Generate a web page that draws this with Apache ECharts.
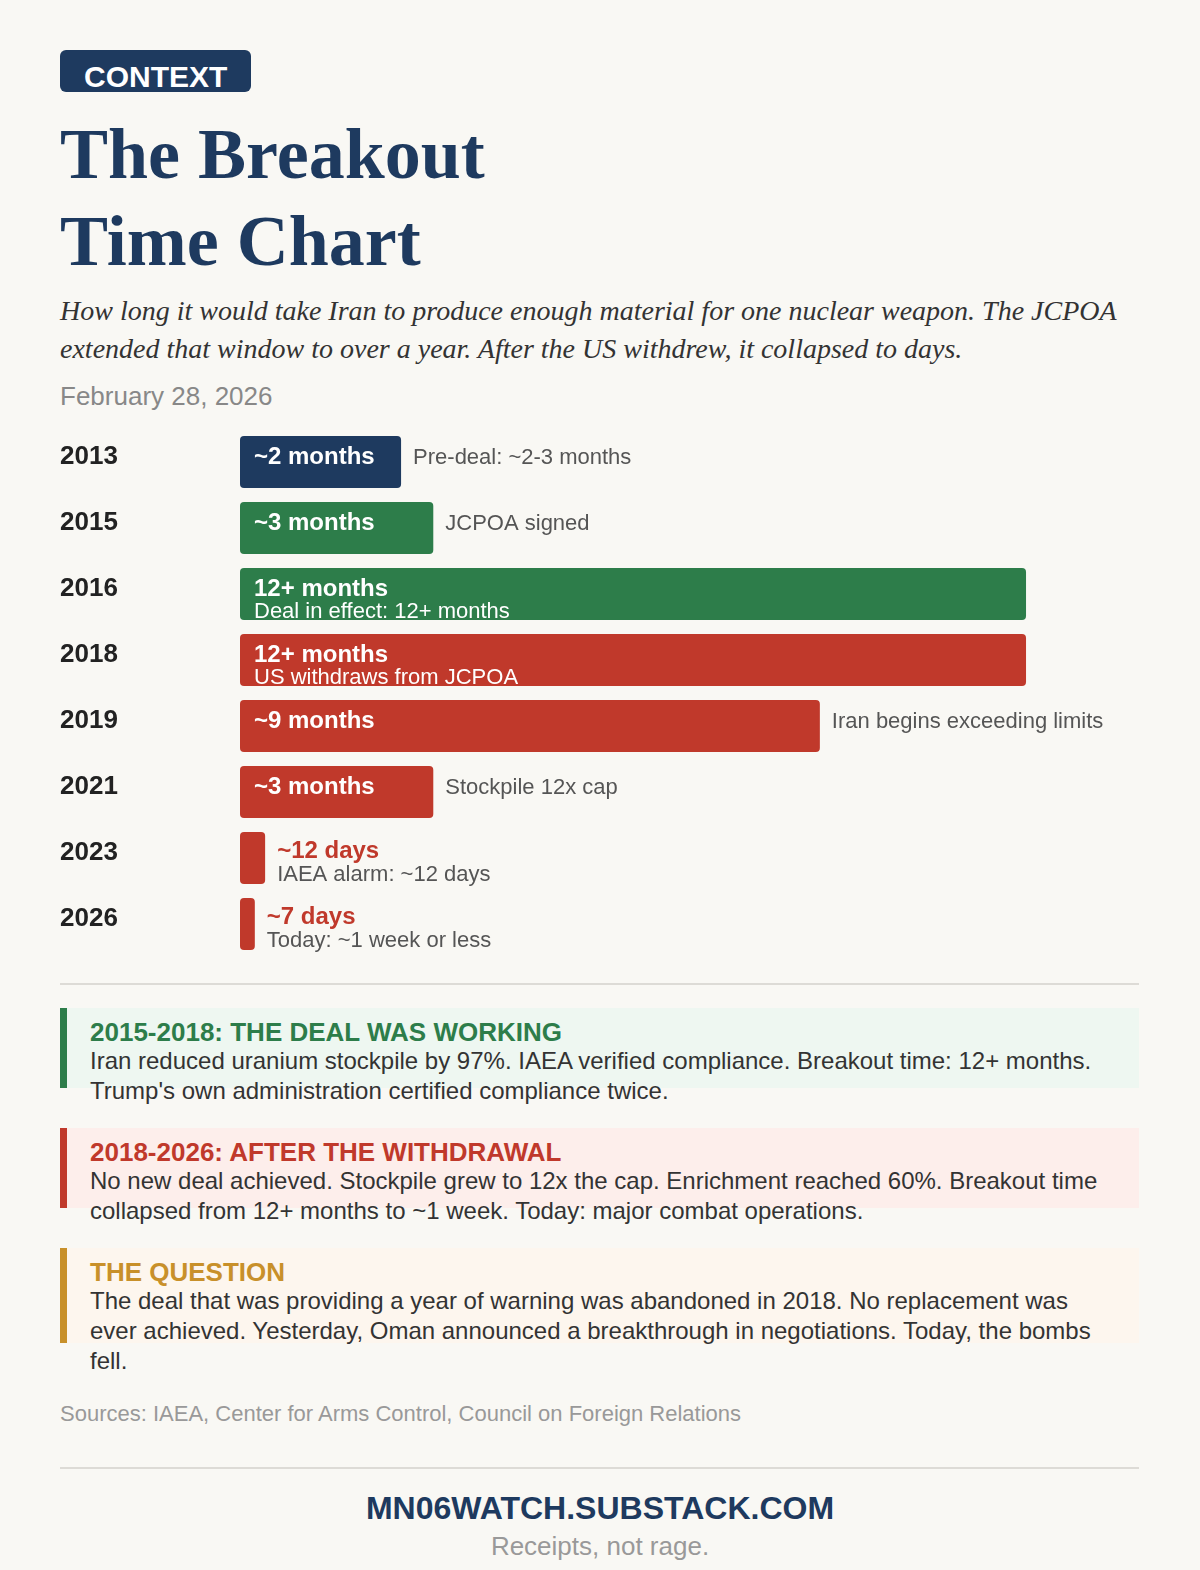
<!DOCTYPE html>
<html>
<head>
<meta charset="utf-8">
<title>The Breakout Time Chart</title>
<script src="https://cdn.jsdelivr.net/npm/echarts@6/dist/echarts.min.js"></script>
<style>
	html, body { margin: 0; padding: 0; }
	body { width: 1200px; height: 1570px; background: #f9f8f4; position: relative; overflow: hidden;
		font-family: "Liberation Sans", Arial, Helvetica, sans-serif; color: #333; }
	.abs { position: absolute; white-space: nowrap; }
	.badge { left: 60px; top: 50px; width: 191px; height: 42px; background: #1e3a5f; border-radius: 6px; }
	.badge-txt { left: 84px; top: 62px; font-size: 30px; line-height: 30px; font-weight: bold; color: #fff; }
	.title { left: 60px; top: 111px; font-family: "Liberation Serif", "Times New Roman", serif; font-weight: bold;
		font-size: 72px; line-height: 87px; color: #1e3a5f; }
	.sub { left: 60px; top: 292px; font-family: "Liberation Serif", "Times New Roman", serif; font-style: italic;
		font-size: 28px; line-height: 38px; color: #333; }
	.date { left: 60px; top: 381px; font-size: 26px; line-height: 30px; color: #888; }
	.rule { left: 60px; width: 1079px; height: 2px; background: #dddbd6; }
	#chart { position: absolute; left: 0; top: 400px; width: 1200px; height: 570px; }
	.box { position: absolute; left: 60px; width: 1079px; }
	.box .stripe { position: absolute; left: 0; top: 0; bottom: 0; width: 7px; }
	.box .hd { position: absolute; left: 30px; top: 9px; font-size: 26px; line-height: 30px; font-weight: bold; white-space: nowrap; }
	.box .bd { position: absolute; left: 30px; top: 38px; font-size: 24px; line-height: 30px; color: #333; white-space: nowrap; }
	.src { left: 60px; top: 1401px; font-size: 22px; line-height: 26px; color: #999; }
	.foot { left: 0; width: 1200px; text-align: center; }
</style>
</head>
<body>
	<div class="abs badge"></div>
	<div class="abs badge-txt">CONTEXT</div>
	<div class="abs title">The Breakout<br>Time Chart</div>
	<div class="abs sub">How long it would take Iran to produce enough material for one nuclear weapon. The JCPOA<br>extended that window to over a year. After the US withdrew, it collapsed to days.</div>
	<div class="abs date">February 28, 2026</div>

	<div id="chart"></div>

	<div class="abs rule" style="top:983px"></div>

	<div class="box" style="top:1008px;height:80px;background:#eef7f1">
		<div class="stripe" style="background:#2d7d4a"></div>
		<div class="hd" style="color:#2d7d4a">2015-2018: THE DEAL WAS WORKING</div>
		<div class="bd">Iran reduced uranium stockpile by 97%. IAEA verified compliance. Breakout time: 12+ months.<br>Trump's own administration certified compliance twice.</div>
	</div>
	<div class="box" style="top:1128px;height:80px;background:#fdeeeb">
		<div class="stripe" style="background:#c0392b"></div>
		<div class="hd" style="color:#c0392b">2018-2026: AFTER THE WITHDRAWAL</div>
		<div class="bd">No new deal achieved. Stockpile grew to 12x the cap. Enrichment reached 60%. Breakout time<br>collapsed from 12+ months to ~1 week. Today: major combat operations.</div>
	</div>
	<div class="box" style="top:1248px;height:95px;background:#fdf6ee">
		<div class="stripe" style="background:#c8902a"></div>
		<div class="hd" style="color:#c8902a">THE QUESTION</div>
		<div class="bd">The deal that was providing a year of warning was abandoned in 2018. No replacement was<br>ever achieved. Yesterday, Oman announced a breakthrough in negotiations. Today, the bombs<br>fell.</div>
	</div>

	<div class="abs src">Sources: IAEA, Center for Arms Control, Council on Foreign Relations</div>
	<div class="abs rule" style="top:1467px"></div>
	<div class="abs foot" style="top:1490px;font-size:32px;line-height:36px;font-weight:bold;color:#1e3a5f">MN06WATCH.SUBSTACK.COM</div>
	<div class="abs foot" style="top:1531px;font-size:26px;line-height:30px;color:#999">Receipts, not rage.</div>

<script>
// breakout time per year, in months (12+ drawn a little past 12)
var years = ['2013', '2015', '2016', '2018', '2019', '2021', '2023', '2026'];
var breakoutMonths = [2.5, 3, 12.2, 12.2, 9, 3, 0.39, 0.23];
var breakoutLabels = ['~2 months', '~3 months', '12+ months', '12+ months', '~9 months', '~3 months', '~12 days', '~7 days'];
var notes = ['Pre-deal: ~2-3 months', 'JCPOA signed', 'Deal in effect: 12+ months', 'US withdraws from JCPOA',
	'Iran begins exceeding limits', 'Stockpile 12x cap', 'IAEA alarm: ~12 days', 'Today: ~1 week or less'];
var phases = ['pre', 'deal', 'deal', 'post', 'post', 'post', 'post', 'post'];

var phaseColor = { pre: '#1e3a5f', deal: '#2d7d4a', post: '#c0392b' };
var FONT = '"Liberation Sans", Arial, Helvetica, sans-serif';

var chart = echarts.init(document.getElementById('chart'));

var barData = [], noteData = [];
for(var i = 0; i < years.length; i++) {
	var v = breakoutMonths[i];
	var inside = v >= 2, noteInside = v >= 10;
	barData.push({
		value: v,
		itemStyle: { color: phaseColor[phases[i]] },
		label: {
			show: inside,
			position: [14, 9.5],
			formatter: noteInside ? '{big|' + breakoutLabels[i] + '}\n{sub|' + notes[i] + '}' : '{big|' + breakoutLabels[i] + '}'
		}
	});
	noteData.push({
		value: v,
		label: {
			show: !noteInside,
			offset: inside ? [0, -4] : [0, 4.5],
			formatter: inside ? '{note|' + notes[i] + '}' : '{red|' + breakoutLabels[i] + '}\n{note|' + notes[i] + '}'
		}
	});
}

chart.setOption({
	animation: false,
	grid: { left: 240, right: 58, top: 29, height: 528 },
	xAxis: { type: 'value', min: 0, max: 14, show: false },
	yAxis: {
		type: 'category',
		data: years,
		inverse: true,
		axisLine: { show: false },
		axisTick: { show: false },
		splitLine: { show: false },
		axisLabel: {
			align: 'left',
			verticalAlign: 'bottom',
			lineHeight: 10,
			margin: 180,
			fontFamily: FONT,
			fontSize: 26,
			fontWeight: 'bold',
			color: '#222'
		}
	},
	series: [{
		name: 'breakout',
		type: 'bar',
		barWidth: 52,
		silent: true,
		itemStyle: { borderRadius: 4 },
		label: {
			fontFamily: FONT,
			rich: {
				big: { fontFamily: FONT, fontSize: 24, fontWeight: 'bold', color: '#fff', lineHeight: 24 },
				sub: { fontFamily: FONT, fontSize: 22, color: '#fff', lineHeight: 21 }
			}
		},
		data: barData
	}, {
		name: 'notes',
		type: 'bar',
		barWidth: 52,
		barGap: '-100%',
		silent: true,
		itemStyle: { color: 'rgba(0,0,0,0)' },
		label: {
			position: 'right',
			distance: 12,
			fontFamily: FONT,
			rich: {
				note: { fontFamily: FONT, fontSize: 22, color: '#555', lineHeight: 22 },
				red: { fontFamily: FONT, fontSize: 24, fontWeight: 'bold', color: '#c0392b', lineHeight: 24 }
			}
		},
		data: noteData
	}]
});
</script>
</body>
</html>
